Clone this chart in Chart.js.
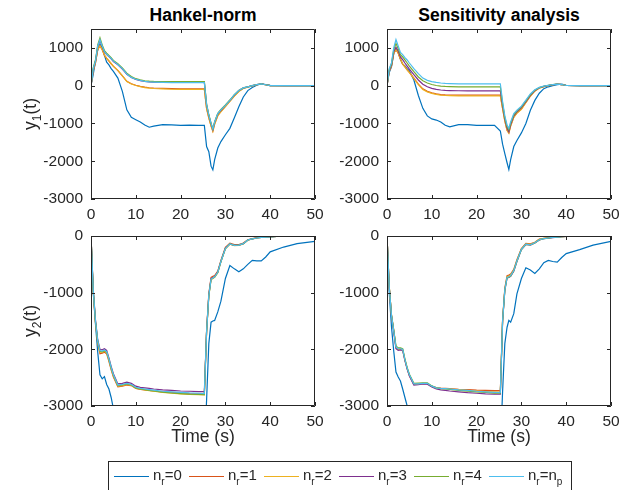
<!DOCTYPE html>
<html>
<head>
<meta charset="utf-8">
<script src="https://cdn.jsdelivr.net/npm/chart.js@4.4.1/dist/chart.umd.min.js"></script>
<style>
  html, body { margin: 0; padding: 0; background: #fff; overflow: hidden; }
  body { width: 643px; height: 490px; position: relative; font-family: 'Liberation Sans', Arial, sans-serif; color: #262626; }
  canvas { position: absolute; }
  #cTL { left: 31px; top: 19px; }
  #cTR { left: 327px; top: 19px; }
  #cBL { left: 31px; top: 226px; }
  #cBR { left: 327px; top: 226px; }
  .title { position: absolute; top: 5px; width: 224px; text-align: center; font-weight: bold; font-size: 17.5px; color: #000; }
  .xlab { position: absolute; top: 426px; width: 224px; text-align: center; font-size: 17.5px; }
  .ylab { position: absolute; left: -30px; width: 120px; height: 20px; line-height: 20px; text-align: center; font-size: 17.5px; transform: rotate(-90deg); }
  .sub { font-size: 12px; position: relative; top: 5px; }
  #legend { position: absolute; left: 108px; top: 461px; width: 462px; height: 40px; border: 1px solid #262626; background: #fff; }
  .item { position: absolute; top: 4px; font-size: 15px; white-space: nowrap; }
  .swatch { position: absolute; top: 14px; width: 35px; height: 0; border-top: 1px solid; }
  .lsub { font-size: 10px; position: relative; top: 5px; }
</style>
</head>
<body>
<div class="title" style="left:91px">Hankel-norm</div>
<div class="title" style="left:387px">Sensitivity analysis</div>
<canvas id="cTL" width="296" height="210"></canvas>
<canvas id="cTR" width="296" height="210"></canvas>
<canvas id="cBL" width="296" height="210"></canvas>
<canvas id="cBR" width="296" height="210"></canvas>
<div class="ylab" style="top:104px">y<span class="sub">1</span>(t)</div>
<div class="ylab" style="top:311px">y<span class="sub">2</span>(t)</div>
<div class="xlab" style="left:91px">Time (s)</div>
<div class="xlab" style="left:387px">Time (s)</div>
<div id="legend"></div>
<script>
// time samples (s)
const time = [0, 0.5, 1, 1.5, 2, 2.5, 3, 3.5, 4, 4.5, 5, 6, 7, 8, 9, 10, 11, 12, 13, 14, 16, 18, 20, 22, 24, 25.3, 25.8, 26.3, 26.8, 27.2, 27.6, 28.3, 29, 30, 31, 32, 33, 34, 35, 36, 37, 38, 39, 40, 43, 46, 50];

const seriesLabels = ['n_r=0', 'n_r=1', 'n_r=2', 'n_r=3', 'n_r=4', 'n_r=n_p'];
const colors = ['#0072BD', '#D95319', '#EDB120', '#7E2F8E', '#77AC30', '#4DBEEE'];

const xTicks = [0, 10, 20, 30, 40, 50];
const y1Ticks = [-3000, -2000, -1000, 0, 1000];
const y2Ticks = [-3000, -2000, -1000, 0];

// Hankel-norm, y1
const hankY1_0 = [0, 300, 650, 950, 1100, 1000, 800, 620, 550, 450, 380, 200, -150, -640, -840, -900, -960, -1040, -1100, -1070, -1030, -1040, -1050, -1045, -1050, -1050, -1610, -1750, -2130, -2230, -1960, -1650, -1480, -1300, -1130, -850, -560, -300, -130, -50, 10, 50, 30, 10, 0, 0, 0];
const hankY1_1 = [0, 400, 600, 950, 1050, 950, 800, 720, 650, 580, 510, 400, 260, 115, 50, 10, -20, -40, -55, -62, -70, -80, -85, -85, -85, -85, -600, -850, -1060, -1200, -1010, -790, -680, -550, -410, -270, -150, -70, -35, -5, 25, 40, 25, 0, 0, 0, 0];
const hankY1_2 = [0, 410, 610, 960, 1060, 960, 810, 730, 660, 590, 515, 405, 265, 110, 45, 5, -25, -50, -65, -75, -85, -95, -100, -100, -100, -100, -610, -860, -1070, -1210, -1020, -800, -690, -555, -415, -275, -155, -75, -40, -5, 25, 40, 25, 0, 0, 0, 0];
const hankY1_3 = [0, 440, 640, 1040, 1200, 1040, 890, 820, 770, 710, 640, 550, 440, 300, 215, 165, 135, 112, 100, 95, 90, 88, 88, 88, 88, 88, -510, -790, -1010, -1160, -970, -750, -650, -520, -390, -250, -130, -60, -30, 0, 30, 45, 25, 0, 0, 0, 0];
const hankY1_4 = [0, 480, 680, 1080, 1270, 1080, 930, 860, 800, 740, 670, 580, 470, 330, 240, 185, 155, 130, 118, 112, 110, 108, 108, 108, 108, 108, -480, -770, -990, -1140, -950, -730, -630, -510, -380, -240, -130, -60, -30, 0, 30, 45, 25, 0, 0, 0, 0];
const hankY1_p = [0, 450, 650, 1050, 1220, 1050, 900, 830, 780, 720, 650, 560, 450, 310, 220, 170, 140, 115, 100, 95, 85, 80, 80, 80, 80, 80, -500, -780, -1000, -1150, -960, -740, -640, -520, -390, -240, -130, -60, -30, 0, 30, 45, 25, 0, 0, 0, 0];

// Sensitivity analysis, y1
const sensY1_0 = [0, 350, 500, 850, 970, 880, 700, 570, 520, 450, 390, 150, -260, -600, -800, -880, -910, -960, -1050, -1090, -1030, -1030, -1050, -1050, -1050, -1200, -1550, -1800, -2040, -2220, -1960, -1610, -1450, -1250, -1000, -650, -390, -200, -80, -30, 0, 25, 40, 10, 0, 0, 0];
const sensY1_1 = [0, 380, 520, 850, 950, 860, 700, 570, 500, 420, 350, 200, 40, -85, -150, -190, -215, -235, -245, -250, -250, -250, -250, -250, -250, -250, -600, -930, -1180, -1250, -1060, -830, -720, -620, -440, -270, -140, -60, -25, 0, 25, 40, 30, 5, 0, 0, 0];
const sensY1_2 = [0, 385, 525, 860, 960, 865, 705, 575, 500, 420, 345, 190, 30, -100, -165, -205, -230, -250, -260, -265, -270, -270, -270, -270, -270, -270, -610, -940, -1190, -1260, -1070, -840, -730, -630, -450, -280, -145, -65, -25, 0, 25, 40, 30, 5, 0, 0, 0];
const sensY1_3 = [0, 400, 550, 900, 1020, 920, 760, 690, 600, 520, 440, 290, 150, 40, -30, -70, -100, -115, -125, -130, -135, -140, -140, -140, -140, -140, -530, -880, -1130, -1220, -1030, -800, -690, -580, -420, -255, -130, -55, -20, 5, 25, 40, 30, 5, 0, 0, 0];
const sensY1_4 = [0, 430, 580, 950, 1120, 980, 820, 760, 680, 600, 520, 370, 230, 130, 70, 30, 5, -10, -20, -25, -30, -30, -30, -30, -30, -30, -470, -840, -1080, -1170, -990, -770, -670, -560, -400, -240, -120, -50, -15, 10, 30, 40, 30, 5, 0, 0, 0];
const sensY1_p = [0, 450, 600, 1000, 1220, 1050, 880, 820, 740, 680, 600, 450, 320, 200, 140, 105, 85, 70, 60, 55, 50, 50, 50, 50, 50, 50, -420, -800, -1040, -1130, -960, -740, -650, -540, -380, -220, -110, -45, -10, 10, 30, 40, 30, 5, 0, 0, 0];

// Hankel-norm, y2
const hankY2_0 = [0, -1000, -1550, -2050, -2450, -2520, -2480, -2620, -2700, -2850, -3050, -3350, -3550, -3650, -3700, -3750, -3750, -3750, -3750, -3750, -3750, -3750, -3750, -3750, -3750, -3750, -2900, -1900, -1520, -1500, -1490, -1340, -1150, -750, -520, -580, -630, -580, -500, -430, -440, -440, -370, -280, -195, -135, -95];
const hankY2_1 = [0, -980, -1530, -1890, -2080, -2070, -2050, -2080, -2210, -2360, -2490, -2660, -2650, -2630, -2640, -2690, -2705, -2715, -2725, -2735, -2750, -2760, -2770, -2780, -2785, -2790, -1670, -1020, -730, -710, -700, -620, -430, -200, -125, -150, -150, -125, -65, -45, -30, -20, -15, -10, 0, 0, 0];
const hankY2_2 = [0, -970, -1520, -1870, -2050, -2055, -2035, -2060, -2190, -2340, -2470, -2650, -2640, -2620, -2635, -2685, -2705, -2715, -2730, -2740, -2760, -2775, -2785, -2795, -2800, -2805, -1700, -1060, -770, -750, -730, -650, -455, -225, -145, -170, -165, -140, -75, -50, -35, -25, -20, -15, 0, 0, 0];
const hankY2_3 = [0, -940, -1480, -1830, -2000, -2010, -1990, -2020, -2150, -2300, -2430, -2610, -2600, -2580, -2600, -2650, -2670, -2680, -2690, -2700, -2715, -2725, -2735, -2740, -2745, -2745, -1680, -1040, -750, -735, -715, -635, -445, -215, -140, -165, -160, -135, -70, -50, -35, -25, -20, -15, 0, 0, 0];
const hankY2_4 = [0, -960, -1510, -1860, -2035, -2045, -2025, -2050, -2180, -2330, -2460, -2640, -2630, -2610, -2630, -2680, -2700, -2710, -2725, -2735, -2755, -2770, -2780, -2790, -2795, -2800, -1695, -1055, -765, -745, -725, -645, -450, -220, -140, -165, -160, -135, -70, -50, -35, -25, -20, -15, 0, 0, 0];
const hankY2_p = [0, -950, -1500, -1850, -2020, -2030, -2010, -2040, -2170, -2320, -2450, -2630, -2620, -2600, -2620, -2670, -2690, -2700, -2710, -2720, -2740, -2750, -2760, -2770, -2775, -2780, -1690, -1050, -760, -740, -720, -640, -450, -220, -140, -165, -160, -135, -70, -50, -35, -25, -20, -15, 0, 0, 0];

// Sensitivity analysis, y2
const sensY2_0 = [0, -1000, -1600, -2030, -2400, -2490, -2560, -2700, -2850, -3000, -3150, -3400, -3550, -3650, -3700, -3750, -3750, -3750, -3750, -3750, -3750, -3750, -3750, -3750, -3750, -3750, -2750, -1900, -1610, -1490, -1520, -1370, -1020, -750, -560, -600, -660, -580, -470, -430, -450, -460, -380, -310, -240, -160, -95];
const sensY2_1 = [0, -890, -1390, -1660, -1970, -2000, -2000, -2010, -2190, -2340, -2460, -2620, -2615, -2605, -2605, -2650, -2675, -2685, -2690, -2695, -2705, -2710, -2720, -2725, -2730, -2730, -1480, -920, -700, -690, -670, -590, -420, -220, -130, -140, -110, -55, -40, -30, -20, -15, -10, -5, 0, 0, 0];
const sensY2_2 = [0, -895, -1395, -1665, -1965, -1995, -1995, -2005, -2185, -2335, -2455, -2615, -2612, -2602, -2603, -2652, -2680, -2690, -2695, -2700, -2712, -2722, -2735, -2745, -2752, -2755, -1490, -935, -715, -705, -685, -600, -430, -228, -138, -148, -115, -60, -42, -32, -22, -18, -10, -5, 0, 0, 0];
const sensY2_3 = [0, -905, -1410, -1690, -1990, -2020, -2010, -2020, -2200, -2350, -2470, -2630, -2625, -2612, -2615, -2665, -2700, -2715, -2725, -2735, -2750, -2765, -2775, -2785, -2790, -2790, -1510, -960, -740, -730, -710, -620, -450, -240, -150, -160, -125, -70, -48, -38, -28, -22, -12, -6, 0, 0, 0];
const sensY2_4 = [0, -895, -1395, -1660, -1940, -1975, -1975, -1990, -2170, -2320, -2440, -2600, -2595, -2590, -2592, -2645, -2680, -2692, -2700, -2708, -2725, -2738, -2752, -2762, -2772, -2775, -1505, -955, -735, -725, -705, -615, -445, -238, -148, -158, -122, -68, -46, -36, -26, -20, -10, -5, 0, 0, 0];
const sensY2_p = [0, -900, -1400, -1670, -1960, -1990, -1990, -2000, -2180, -2330, -2450, -2610, -2610, -2600, -2600, -2650, -2680, -2690, -2695, -2700, -2715, -2725, -2740, -2750, -2760, -2765, -1500, -950, -730, -720, -700, -610, -440, -235, -145, -155, -120, -65, -45, -35, -25, -20, -10, -5, 0, 0, 0];

const axisColor = '#262626';
const tickFont = { family: "'Liberation Sans', Arial, sans-serif", size: 15.5 };

// MATLAB style box with inward tick marks
const boxTicks = {
  id: 'boxTicks',
  afterDatasetsDraw(chart) {
    const { ctx, chartArea: a, scales: { x, y } } = chart;
    const len = 4;
    ctx.save();
    ctx.strokeStyle = axisColor;
    ctx.lineWidth = 1;
    ctx.beginPath();
    x.ticks.forEach(t => {
      const px = Math.round(x.getPixelForValue(t.value)) + 0.5;
      ctx.moveTo(px, a.bottom); ctx.lineTo(px, a.bottom - len);
      ctx.moveTo(px, a.top); ctx.lineTo(px, a.top + len);
    });
    y.ticks.forEach(t => {
      const py = Math.round(y.getPixelForValue(t.value)) + 0.5;
      ctx.moveTo(a.left, py); ctx.lineTo(a.left + len, py);
      ctx.moveTo(a.right, py); ctx.lineTo(a.right - len, py);
    });
    ctx.rect(Math.round(a.left) + 0.5, Math.round(a.top) + 0.5, Math.round(a.right - a.left) - 1, Math.round(a.bottom - a.top) - 1);
    ctx.stroke();
    ctx.restore();
  }
};

// drop the label-based paddings so the plot box lands where the layout says
function noPad(s) {
  s.paddingTop = 0; s.paddingBottom = 0; s.paddingLeft = 0; s.paddingRight = 0;
}

function makePanel(id, series, yMin, yMax, yTicks) {
  new Chart(document.getElementById(id), {
    type: 'line',
    data: {
      datasets: series.map((vals, k) => ({
        label: seriesLabels[k],
        data: time.map((t, i) => ({ x: t, y: vals[i] })),
        borderColor: colors[k],
        borderWidth: 1.2,
        pointRadius: 0,
        tension: 0,
        fill: false,
        order: series.length - k  // later series on top, like MATLAB
      }))
    },
    options: {
      responsive: false,
      animation: false,
      events: [],
      devicePixelRatio: 1,
      layout: { padding: { top: 10, right: 12, left: 0, bottom: 0 } },
      plugins: { legend: { display: false }, tooltip: { enabled: false } },
      scales: {
        x: {
          type: 'linear', min: 0, max: 50,
          afterBuildTicks: s => { s.ticks = xTicks.map(v => ({ value: v })); },
          afterFit: s => { s.height = 30; noPad(s); },
          grid: { display: false, drawTicks: false },
          border: { display: false },
          ticks: { font: tickFont, color: axisColor, padding: 6, maxRotation: 0, callback: v => String(v) }
        },
        y: {
          type: 'linear', min: yMin, max: yMax,
          afterBuildTicks: s => { s.ticks = yTicks.map(v => ({ value: v })); },
          afterFit: s => { s.width = 60; noPad(s); },
          grid: { display: false, drawTicks: false },
          border: { display: false },
          ticks: { font: tickFont, color: axisColor, padding: 8, callback: v => String(v) }
        }
      }
    },
    plugins: [boxTicks]
  });
}

makePanel('cTL', [hankY1_0, hankY1_1, hankY1_2, hankY1_3, hankY1_4, hankY1_p], -3000, 1500, y1Ticks);
makePanel('cTR', [sensY1_0, sensY1_1, sensY1_2, sensY1_3, sensY1_4, sensY1_p], -3000, 1500, y1Ticks);
makePanel('cBL', [hankY2_0, hankY2_1, hankY2_2, hankY2_3, hankY2_4, hankY2_p], -3000, 0, y2Ticks);
makePanel('cBR', [sensY2_0, sensY2_1, sensY2_2, sensY2_3, sensY2_4, sensY2_p], -3000, 0, y2Ticks);

// legend (HTML)
const legend = document.getElementById('legend');
seriesLabels.forEach((lab, k) => {
  const sw = document.createElement('div');
  sw.className = 'swatch';
  sw.style.left = (5 + 75 * k) + 'px';
  sw.style.borderTopColor = colors[k];
  legend.appendChild(sw);
  const it = document.createElement('div');
  it.className = 'item';
  it.style.left = (44 + 75 * k) + 'px';
  it.innerHTML = lab.replace(/_(\w)/g, '<span class="lsub">$1</span>');
  legend.appendChild(it);
});
</script>
</body>
</html>
